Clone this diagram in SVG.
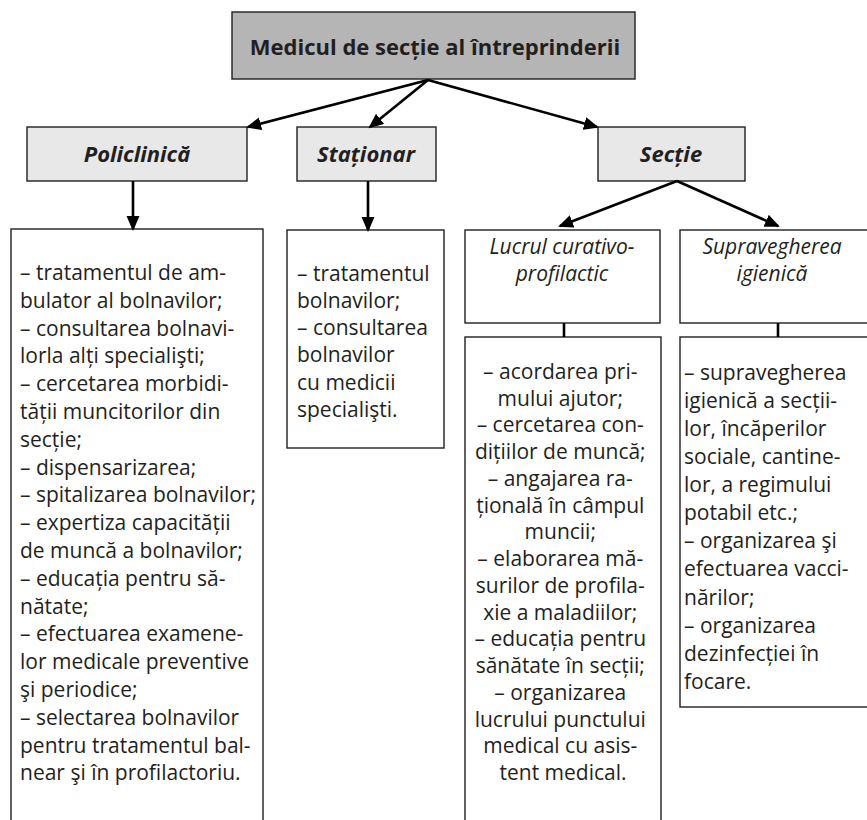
<svg xmlns="http://www.w3.org/2000/svg" width="867" height="820" viewBox="0 0 867 820">
<style>
.box{fill:#ffffff;stroke:#231f20;stroke-width:1.4}
.top{fill:#b5b5b5;stroke:#231f20;stroke-width:1.4}
.hdr{fill:#e8e8e8;stroke:#231f20;stroke-width:1.4}
.t{font-family:"Open Sans","Noto Sans",sans-serif;font-size:21px;fill:#231f20}
.ti{font-family:"Open Sans","Noto Sans",sans-serif;font-size:21px;font-style:italic;fill:#231f20;text-anchor:middle}
.hb{font-family:"Open Sans","Noto Sans",sans-serif;font-size:22px;font-weight:bold;font-style:italic;fill:#231f20;text-anchor:middle}
.title{font-family:"Open Sans","Noto Sans",sans-serif;font-size:22px;font-weight:bold;fill:#231f20;text-anchor:middle}
.c{text-anchor:middle}
.arr{stroke:#000;stroke-width:2.6;fill:none;marker-end:url(#ah)}
.ln{stroke:#000;stroke-width:2.6;fill:none}
</style>
<defs>
<marker id="ah" markerUnits="userSpaceOnUse" markerWidth="16" markerHeight="14" refX="13" refY="6.5" orient="auto">
<path d="M0,0 L15,6.5 L0,13 z" fill="#000"/>
</marker>
</defs>

<g id="top">
<rect class="top" x="232" y="12" width="403" height="67"/>
<text class="title" x="435" y="55">Medicul de secție al  întreprinderii</text>
</g>

<g id="policlinica">
<rect class="hdr" x="27" y="127" width="220" height="54"/>
<text class="hb" x="137" y="162">Policlinică</text>
</g>

<g id="stationar">
<rect class="hdr" x="297" y="127" width="139" height="54"/>
<text class="hb" x="366" y="162">Staționar</text>
</g>

<g id="sectie">
<rect class="hdr" x="598" y="127" width="147" height="54"/>
<text class="hb" x="671" y="162">Secție</text>
</g>

<g id="policlinica-list">
<rect class="box" x="11" y="229" width="252" height="610"/>
<text class="t">
<tspan x="20" y="280">– tratamentul de am-</tspan>
<tspan x="20" y="307.8">bulator al bolnavilor;</tspan>
<tspan x="20" y="335.6">– consultarea bolnavi-</tspan>
<tspan x="20" y="363.4">lorla alți specialişti;</tspan>
<tspan x="20" y="391.2">– cercetarea morbidi-</tspan>
<tspan x="20" y="419">tății muncitorilor din</tspan>
<tspan x="20" y="446.8">secție;</tspan>
<tspan x="20" y="474.6">– dispensarizarea;</tspan>
<tspan x="20" y="502.4">– spitalizarea bolnavilor;</tspan>
<tspan x="20" y="530.2">– expertiza capacității</tspan>
<tspan x="20" y="558">de muncă a bolnavilor;</tspan>
<tspan x="20" y="585.8">– educația pentru să-</tspan>
<tspan x="20" y="613.6">nătate;</tspan>
<tspan x="20" y="641.4">– efectuarea examene-</tspan>
<tspan x="20" y="669.2">lor medicale preventive</tspan>
<tspan x="20" y="697">şi periodice;</tspan>
<tspan x="20" y="724.8">– selectarea bolnavilor</tspan>
<tspan x="20" y="752.6">pentru tratamentul bal-</tspan>
<tspan x="20" y="780.4">near şi în profilactoriu.</tspan>
</text>
</g>

<g id="stationar-list">
<rect class="box" x="287" y="230" width="157" height="218"/>
<text class="t">
<tspan x="297" y="281">– tratamentul</tspan>
<tspan x="297" y="308">bolnavilor;</tspan>
<tspan x="297" y="335">– consultarea</tspan>
<tspan x="297" y="362">bolnavilor</tspan>
<tspan x="297" y="390">cu medicii</tspan>
<tspan x="297" y="417">specialişti.</tspan>
</text>
</g>

<g id="lucrul">
<rect class="box" x="465" y="230" width="195" height="93"/>
<text class="ti"><tspan x="562" y="254">Lucrul curativo-</tspan><tspan x="562" y="281">profilactic</tspan></text>
</g>

<g id="supraveghere">
<rect class="box" x="680" y="230" width="190" height="93"/>
<text class="ti"><tspan x="772" y="254">Supravegherea</tspan><tspan x="772" y="281">igienică</tspan></text>
</g>

<g id="lucrul-list">
<rect class="box" x="465" y="337" width="196" height="500"/>
<text class="t c">
<tspan x="563" y="379">– acordarea pri-</tspan>
<tspan x="563" y="406">mului ajutor;</tspan>
<tspan x="563" y="432">– cercetarea con-</tspan>
<tspan x="563" y="459">dițiilor de muncă;</tspan>
<tspan x="563" y="486">– angajarea ra-</tspan>
<tspan x="563" y="513">țională în câmpul</tspan>
<tspan x="563" y="539">muncii;</tspan>
<tspan x="563" y="566">– elaborarea mă-</tspan>
<tspan x="563" y="593">surilor de profila-</tspan>
<tspan x="563" y="620">xie a maladiilor;</tspan>
<tspan x="563" y="646">– educația pentru</tspan>
<tspan x="563" y="673">sănătate în secții;</tspan>
<tspan x="563" y="700">– organizarea</tspan>
<tspan x="563" y="727">lucrului punctului</tspan>
<tspan x="563" y="753">medical cu asis-</tspan>
<tspan x="563" y="780">tent medical.</tspan>
</text>
</g>

<g id="supraveghere-list">
<rect class="box" x="680" y="337" width="190" height="370"/>
<text class="t">
<tspan x="684" y="380">– supravegherea</tspan>
<tspan x="684" y="408">igienică a secții-</tspan>
<tspan x="684" y="436">lor, încăperilor</tspan>
<tspan x="684" y="464">sociale, cantine-</tspan>
<tspan x="684" y="492">lor, a regimului</tspan>
<tspan x="684" y="520">potabil etc.;</tspan>
<tspan x="684" y="548">– organizarea şi</tspan>
<tspan x="684" y="576">efectuarea vacci-</tspan>
<tspan x="684" y="605">nărilor;</tspan>
<tspan x="684" y="633">– organizarea</tspan>
<tspan x="684" y="661">dezinfecției în</tspan>
<tspan x="684" y="689">focare.</tspan>
</text>
</g>

<g id="connectors">
<line class="arr" x1="428" y1="80" x2="248" y2="127"/>
<line class="arr" x1="428" y1="80" x2="370" y2="127"/>
<line class="arr" x1="428" y1="80" x2="597" y2="127"/>
<line class="arr" x1="133" y1="181" x2="133" y2="229"/>
<line class="arr" x1="368" y1="181" x2="368" y2="230"/>
<line class="arr" x1="677" y1="181" x2="560" y2="226"/>
<line class="arr" x1="677" y1="181" x2="778" y2="226"/>
<line class="ln" x1="564" y1="323" x2="564" y2="337"/>
<line class="ln" x1="778" y1="323" x2="778" y2="337"/>
</g>
</svg>
